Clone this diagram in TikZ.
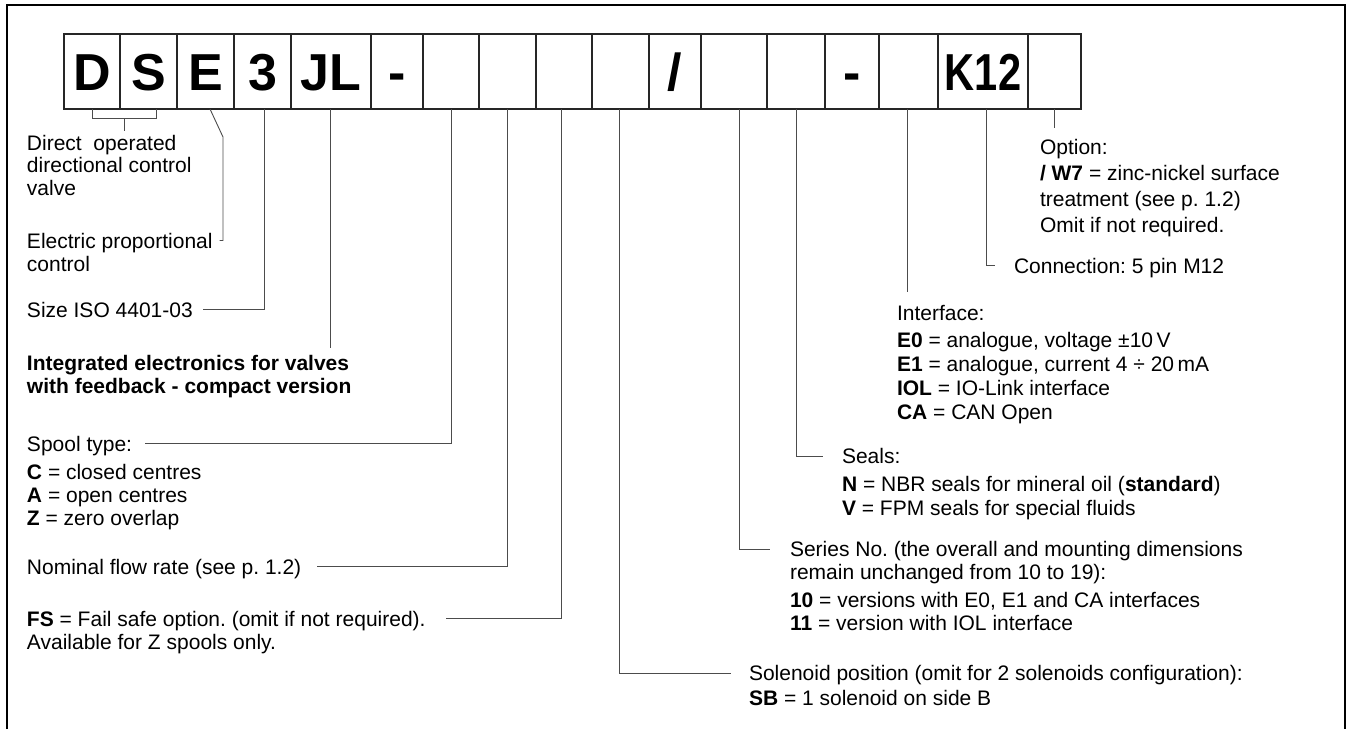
\documentclass[tikz,border=0pt]{standalone}
\usepackage{fontspec}
\setmainfont{Liberation Sans}
\usepackage{graphicx}
\usetikzlibrary{calc}
\frenchspacing
\begin{document}
\begin{tikzpicture}[x=1pt,y=-1pt,
  cell/.style={draw=black!85, line width=1.1pt, inner sep=0pt, outer sep=0pt,
    minimum height=75pt, anchor=north west, text height=37pt, text depth=0pt,
    font=\fontsize{52}{60}\selectfont\bfseries},
  lbl/.style={anchor=base west, inner sep=0pt, outer sep=0pt, text height=15pt, text depth=0pt,
    font=\fontsize{21}{25}\selectfont},
  blbl/.style={lbl, font=\fontsize{21}{25}\selectfont\bfseries},
  leader/.style={draw=black!70, line width=0.9pt},
  frame/.style={draw=black, line width=1.3pt}]
\useasboundingbox (0,0) rectangle (1349,729);
\draw[frame] (7,729) -- (7,5) -- (1345,5) -- (1345,729);

% code boxes
\node[cell, minimum width=56pt] (b1)  at (64,34)  {D};
\node[cell, minimum width=57pt] (b2)  at (120,34) {S};
\node[cell, minimum width=57pt] (b3)  at (177,34) {E};
\node[cell, minimum width=57pt] (b4)  at (234,34) {3};
\node[cell, minimum width=80pt] (b5)  at (291,34) {JL};
\node[cell, minimum width=52pt] (b6)  at (371,34) {-};
\node[cell, minimum width=56pt] (b7)  at (423,34) {};
\node[cell, minimum width=57pt] (b8)  at (479,34) {};
\node[cell, minimum width=56pt] (b9)  at (536,34) {};
\node[cell, minimum width=57pt] (b10) at (592,34) {};
\node[cell, minimum width=52pt] (b11) at (649,34) {/};
\node[cell, minimum width=66pt] (b12) at (701,34) {};
\node[cell, minimum width=58pt] (b13) at (767,34) {};
\node[cell, minimum width=54pt] (b14) at (825,34) {-};
\node[cell, minimum width=59pt] (b15) at (879,34) {};
\node[cell, minimum width=90pt] (b16) at (938,34) {\scalebox{0.8}[1]{K12}};
\node[cell, minimum width=53pt] (b17) at (1028,34) {};

% left column texts
\node[lbl] (ds1) at (27,150) {Direct\ \ operated};
\node[lbl] (ds2) at (27,172.5) {directional control};
\node[lbl] (ds3) at (27,195) {valve};
\node[lbl] (ep1) at (27,248) {Electric proportional};
\node[lbl] (ep2) at (27,271) {control};
\node[lbl] (sz) at (27,317) {Size ISO 4401-03};
\node[blbl] (ie1) at (27,370) {Integrated electronics for valves};
\node[blbl] (ie2) at (27,393) {with feedback - compact version};
\node[lbl] (sp) at (27,451) {Spool type:};
\node[lbl] (spc) at (27,479) {\textbf{C} = closed centres};
\node[lbl] (spa) at (27,502) {\textbf{A} = open centres};
\node[lbl] (spz) at (27,525) {\textbf{Z} = zero overlap};
\node[lbl] (nf) at (27,574) {Nominal flow rate (see p. 1.2)};
\node[lbl] (fs1) at (27,626) {\textbf{FS} = Fail safe option. (omit if not required).};
\node[lbl] (fs2) at (27,649) {Available for Z spools only.};

% right side texts
\node[lbl] (op1) at (1040,154) {Option:};
\node[lbl] (op2) at (1040,180.5) {\textbf{/ W7} = zinc-nickel surface};
\node[lbl] (op3) at (1040,206.5) {treatment (see p. 1.2)};
\node[lbl] (op4) at (1040,232.5) {Omit if not required.};
\node[lbl] (cn) at (1014,273) {Connection: 5 pin M12};
\node[lbl] (if0) at (897,320) {Interface:};
\node[lbl] (if1) at (897,347.5) {\textbf{E0} = analogue, voltage ±10\,V};
\node[lbl] (if2) at (897,371.5) {\textbf{E1} = analogue, current 4 ÷ 20\,mA};
\node[lbl] (if3) at (897,395.5) {\textbf{IOL} = IO-Link interface};
\node[lbl] (if4) at (897,419.5) {\textbf{CA} = CAN Open};
\node[lbl] (se0) at (842,463.5) {Seals:};
\node[lbl] (se1) at (842,491.5) {\textbf{N} = NBR seals for mineral oil (\textbf{standard})};
\node[lbl] (se2) at (842,515.5) {\textbf{V} = FPM seals for special fluids};
\node[lbl] (sr0) at (790,556.5) {Series No. (the overall and mounting dimensions};
\node[lbl] (sr1) at (790,579.5) {remain unchanged from 10 to 19):};
\node[lbl] (sr2) at (790,607.5) {\textbf{10} = versions with E0, E1 and CA interfaces};
\node[lbl] (sr3) at (790,630.5) {\textbf{11} = version with IOL interface};
\node[lbl] (so0) at (749,680.5) {Solenoid position (omit for 2 solenoids configuration):};
\node[lbl] (so1) at (749,705.5) {\textbf{SB} = 1 solenoid on side B};

% leaders
\draw[leader] (b1.south) -- ++(0,9) -| ([xshift=7.5pt]b2.south);
\coordinate (dsm) at (124,118);
\draw[leader] (dsm) -- ++(0,13);
\draw[leader] ([xshift=4.5pt]b3.south) -- ++(13,28) |- ([xshift=7pt]ep1.east);
\draw[leader] ([xshift=1.5pt]b4.south) |- ([xshift=10pt]sz.east);
\draw[leader] ([xshift=-1pt]b5.south) -- ++(0,239) coordinate (jlend);
\draw[leader] (b7.south) |- ([xshift=13pt]sp.east);
\draw[leader] (b8.south) |- ([xshift=16pt]nf.east);
\draw[leader] ([xshift=-3pt]b9.south) |- ([xshift=20pt]fs1.east);
\draw[leader] ([xshift=-1.5pt]b10.south) |- ([xshift=-18pt]so0.west);
\draw[leader] ([xshift=5pt]b12.south) |- ([xshift=-20pt]sr0.west);
\draw[leader] (b13.south) |- ([xshift=-19pt]se0.west);
\draw[leader] ([xshift=-1.5pt]b15.south) -- ++(0,183) coordinate (ifend);
\draw[leader] ([xshift=3pt]b16.south) |- ([xshift=-19pt]cn.west);
\draw[leader] (b17.south) -- ++(0,19) coordinate (opend);
\end{tikzpicture}
\end{document}
